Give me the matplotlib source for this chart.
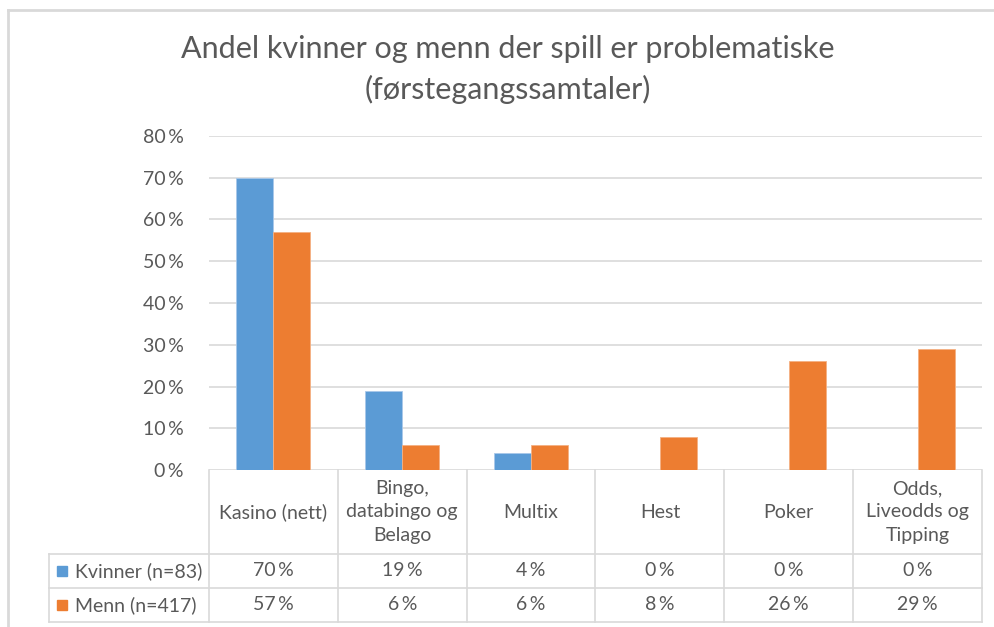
import numpy as np
import matplotlib
matplotlib.use("Agg")
import matplotlib.pyplot as plt
from matplotlib.patches import Rectangle
from matplotlib.lines import Line2D
import matplotlib.transforms as mtransforms

# === Data ===
kategorier = ["Kasino (nett)", "Bingo,\ndatabingo og\nBelago", "Multix", "Hest",
              "Poker", "Odds,\nLiveodds og\nTipping"]
serier = ["Kvinner (n=83)", "Menn (n=417)"]
kvinner = [70, 19, 4, 0, 0, 0]
menn = [57, 6, 6, 8, 26, 29]
yticks = [0, 10, 20, 30, 40, 50, 60, 70, 80]

BLA = "#5B9BD5"
ORANSJE = "#ED7D31"
TEKST = "#595959"
LINJE = "#D9D9D9"
FONT = "Lato"
FS = 14

W, H = 994, 627
fig = plt.figure(figsize=(W / 100, H / 100), dpi=100)

# plotområde i piksler
x0, x1 = 209, 982
y_top, y_bot = 136, 470
ax = fig.add_axes([x0 / W, 1 - y_bot / H, (x1 - x0) / W, (y_bot - y_top) / H])

x = np.arange(len(kategorier))
bw = 0.287
ax.bar(x - bw / 2, kvinner, bw, color=BLA, edgecolor="#A9C8EA", linewidth=0.6, zorder=3)
ax.bar(x + bw / 2, menn, bw, color=ORANSJE, edgecolor="#F4B183", linewidth=0.6, zorder=3)

ax.set_xlim(-0.5, len(kategorier) - 0.5)
ax.set_ylim(0, 80)
ax.set_yticks(yticks)
ax.set_yticklabels([f"{v}\u2009%" for v in yticks], fontsize=FS, color=TEKST, family=FONT)
ax.tick_params(axis="y", length=0, pad=18)
ax.set_xticks([])
for s in ax.spines.values():
    s.set_visible(False)
ax.grid(axis="y", color=LINJE, linewidth=1.2, zorder=0)

# === Datatabell under plottet ===
trans = mtransforms.blended_transform_factory(ax.transData, ax.transAxes)
ph = y_bot - y_top
def ay(py):
    return -(py - y_bot) / ph

hdr_bot, r1_bot, r2_bot = ay(554), ay(588), ay(622)
leg_left = (49 - x0) / (x1 - x0) * len(kategorier) - 0.5

for b in np.arange(len(kategorier) + 1) - 0.5:
    ax.add_line(Line2D([b, b], [0, r2_bot], transform=trans, color=LINJE,
                       linewidth=1.2, clip_on=False))
for yy in [hdr_bot, r1_bot, r2_bot]:
    ax.add_line(Line2D([leg_left, len(kategorier) - 0.5], [yy, yy], transform=trans,
                       color=LINJE, linewidth=1.2, clip_on=False))
ax.add_line(Line2D([leg_left, leg_left], [hdr_bot, r2_bot], transform=trans,
                   color=LINJE, linewidth=1.2, clip_on=False))

for i, kat in enumerate(kategorier):
    ax.text(i, (0 + hdr_bot) / 2, kat, transform=trans, ha="center", va="center",
            fontsize=FS, color=TEKST, family=FONT, linespacing=1.45)
    ax.text(i, (hdr_bot + r1_bot) / 2, f"{kvinner[i]}\u2009%", transform=trans,
            ha="center", va="center", fontsize=FS, color=TEKST, family=FONT)
    ax.text(i, (r1_bot + r2_bot) / 2, f"{menn[i]}\u2009%", transform=trans,
            ha="center", va="center", fontsize=FS, color=TEKST, family=FONT)

# legendnøkler i tabellen
for navn, farge, (ya, yb) in zip(serier, [BLA, ORANSJE], [(hdr_bot, r1_bot), (r1_bot, r2_bot)]):
    yc_px = y_bot - (ya + yb) / 2 * ph
    fig.patches.append(Rectangle((57 / W, 1 - (yc_px + 5) / H), 10 / W, 10 / H,
                                 transform=fig.transFigure, color=farge))
    fig.text(75 / W, 1 - yc_px / H, navn, ha="left", va="center",
             fontsize=FS, color=TEKST, family=FONT)

# tittel
fig.text(508 / W, 1 - 49 / H, "Andel kvinner og menn der spill er problematiske",
         ha="center", va="center", fontsize=22, color=TEKST, family=FONT)
fig.text(508 / W, 1 - 89 / H, "(førstegangssamtaler)",
         ha="center", va="center", fontsize=22, color=TEKST, family=FONT)

# ramme rundt diagrammet
fig.add_artist(Line2D([8 / W, 1.01], [1 - 10 / H, 1 - 10 / H], transform=fig.transFigure,
                      color=LINJE, linewidth=2))
fig.add_artist(Line2D([8 / W, 8 / W], [1 - 10 / H, -0.01], transform=fig.transFigure,
                      color=LINJE, linewidth=2))

fig.savefig("out.png", dpi=100, facecolor="white")
